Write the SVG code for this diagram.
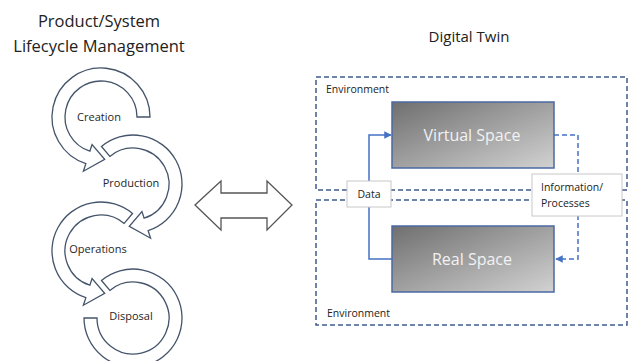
<svg xmlns="http://www.w3.org/2000/svg" width="632" height="361" viewBox="0 0 632 361">
<style>
.title{font-family:"Open Sans","Noto Sans",sans-serif;font-size:16.5px;fill:#222;text-anchor:middle}
.ring{fill:#fff;stroke:#44546a;stroke-width:1.3}
.rl{font-family:"Open Sans","Noto Sans",sans-serif;font-size:11px;fill:#262626;text-anchor:middle}
.env{fill:none;stroke:#3f5a8f;stroke-width:1.5;stroke-dasharray:5 3}
.envl{font-family:"Open Sans","Noto Sans",sans-serif;font-size:10.5px;fill:#222}
.space{fill:url(#g);stroke:#4a69a3;stroke-width:1.5}
.st{font-family:"Open Sans","Noto Sans",sans-serif;font-size:16px;fill:#f2f2f2;text-anchor:middle}
.lbl{fill:#fff;stroke:#c8c8c8;stroke-width:1}
.lt{font-family:"Open Sans","Noto Sans",sans-serif;font-size:10.5px;fill:#222}
</style>
<defs>
<linearGradient id="g" x1="0" y1="0" x2="1" y2="1">
<stop offset="0" stop-color="#6f6f6f"/>
<stop offset="1" stop-color="#d2d2d2"/>
</linearGradient>
<marker id="ah" viewBox="0 0 10 10" refX="9" refY="5" markerWidth="5" markerHeight="5" orient="auto" markerUnits="strokeWidth">
<path d="M0,0 L10,5 L0,10 Z" fill="#4472c4"/>
</marker>
</defs>
<rect width="632" height="361" fill="#fff"/>

<g id="titles">
<text class="title" x="99" y="27">Product/System</text>
<text class="title" x="99" y="52">Lifecycle Management</text>
<text class="title" x="469" y="42" style="font-size:15px">Digital Twin</text>
</g>

<g id="creation">
<path class="ring" d="M150,117 A49,49 0 1,0 85.86,163.60 L83.39,171.21 L104.70,159.34 L92.04,144.58 L89.88,151.24 A36,36 0 1,1 137,117 Z"/>
<text class="rl" x="99" y="121">Creation</text>
</g>
<g id="production">
<path class="ring" d="M101.50,146.47 A49,49 0 1,1 148.14,230.60 L150.61,238.21 L129.30,226.34 L141.96,211.58 L144.12,218.24 A36,36 0 1,0 109.86,156.42 Z"/>
<text class="rl" x="131" y="187">Production</text>
</g>
<g id="operations">
<path class="ring" d="M132.50,213.47 A49,49 0 1,0 85.86,297.60 L83.39,305.21 L104.70,293.34 L92.04,278.58 L89.88,285.24 A36,36 0 1,1 124.14,223.42 Z"/>
<text class="rl" x="98" y="253">Operations</text>
</g>
<g id="disposal">
<path class="ring" d="M101.50,280.47 A49,49 0 1,1 84,318 L97,318 A36,36 0 1,0 109.86,290.42 Z"/>
<text class="rl" x="131" y="320">Disposal</text>
</g>

<g id="double-arrow">
<path d="M195,205 L221,181 L221,193 L267,193 L267,181 L292,205 L267,230 L267,218 L221,218 L221,230 Z" fill="#fff" stroke="#555" stroke-width="1.3" stroke-linejoin="miter"/>
</g>

<g id="env-virtual">
<rect class="env" x="316" y="77" width="311" height="113"/>
<text class="envl" x="326" y="93">Environment</text>
</g>
<g id="env-real">
<rect class="env" x="316" y="200" width="311" height="125"/>
<text class="envl" x="327" y="317">Environment</text>
</g>

<g id="connectors">
<path d="M392,259 H369 V135 H391" fill="none" stroke="#4472c4" stroke-width="1.5" marker-end="url(#ah)"/>
<path d="M554,135 H578 V259 H556" fill="none" stroke="#4472c4" stroke-width="1.5" stroke-dasharray="5 3" marker-end="url(#ah)"/>
</g>

<g id="virtual-space">
<rect class="space" x="392" y="102" width="162" height="66"/>
<text class="st" x="472" y="141">Virtual Space</text>
</g>
<g id="real-space">
<rect class="space" x="392" y="226" width="162" height="66"/>
<text class="st" x="472" y="265">Real Space</text>
</g>

<g id="data">
<rect class="lbl" x="347" y="181" width="44" height="26"/>
<text class="lt" x="369" y="198" text-anchor="middle">Data</text>
</g>
<g id="info">
<rect class="lbl" x="532" y="174" width="90" height="42"/>
<text class="lt" x="541" y="191">Information/</text>
<text class="lt" x="541" y="207">Processes</text>
</g>
</svg>
